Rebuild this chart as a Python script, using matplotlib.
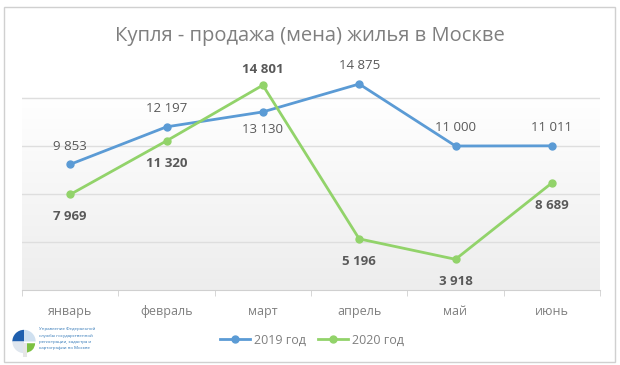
import numpy as np
import matplotlib
matplotlib.use("Agg")
import matplotlib.pyplot as plt
from matplotlib.patches import Rectangle, Wedge
from matplotlib.lines import Line2D

plt.rcParams['font.family'] = ['Open Sans', 'DejaVu Sans']

# данные
mesyacy = ['январь', 'февраль', 'март', 'апрель', 'май', 'июнь']
god_2019 = [9853, 12197, 13130, 14875, 11000, 11011]
god_2020 = [7969, 11320, 14801, 5196, 3918, 8689]
podpisi_2019 = ['9 853', '12 197', '13 130', '14 875', '11 000', '11 011']
podpisi_2020 = ['7 969', '11 320', '14 801', '5 196', '3 918', '8 689']
setka = [5000, 8000, 11000, 14000]

SINIY = '#5b9bd5'
ZELENYY = '#92d36a'
SERYY = '#595959'

W, H = 620, 365
fig = plt.figure(figsize=(W / 100, H / 100), dpi=100)
fig.patch.set_facecolor('white')

# рамка вокруг диаграммы
fig.patches.append(Rectangle((4 / W, 1 - 362 / H), 611 / W, 355 / H, transform=fig.transFigure,
                             fill=False, edgecolor='#d0d0d0', linewidth=1))

ax = fig.add_axes([22 / W, 1 - 290 / H, 578 / W, 232 / H])
x = np.arange(len(mesyacy))
ax.set_xlim(-0.5, len(mesyacy) - 0.5)
ax.set_ylim(2000, 16500)

# фон с градиентом
grad = np.linspace(0, 1, 256).reshape(-1, 1)
cmap = matplotlib.colors.LinearSegmentedColormap.from_list('g', ['#ededed', '#ffffff'])
ax.imshow(grad, extent=[-0.5, len(mesyacy) - 0.5, 2000, 14000], origin='lower',
          aspect='auto', cmap=cmap, zorder=0)

for g in setka:
    ax.axhline(g, color='#dedede', linewidth=1, zorder=1)

ax.plot(x, god_2019, color=SINIY, linewidth=2, marker='o', markersize=5, zorder=3)
ax.plot(x, god_2020, color=ZELENYY, linewidth=2, marker='o', markersize=5, zorder=3)

for i in range(len(x)):
    sverhu_2019 = i != 2
    ax.annotate(podpisi_2019[i], (x[i], god_2019[i]),
                xytext=(0, 13 if sverhu_2019 else -13), textcoords='offset points',
                ha='center', va='center', fontsize=9.5, color=SERYY, zorder=4)
    sverhu_2020 = i == 2
    ax.annotate(podpisi_2020[i], (x[i], god_2020[i]),
                xytext=(0, 11 if sverhu_2020 else -16), textcoords='offset points',
                ha='center', va='center', fontsize=9.5, color=SERYY, fontweight='bold', zorder=4)

for s in ['top', 'right', 'left']:
    ax.spines[s].set_visible(False)
ax.spines['bottom'].set_color('#d0d0d0')
ax.set_yticks([])
ax.set_xticks(x)
ax.set_xticklabels(mesyacy, fontsize=9, color='#7f7f7f')
ax.tick_params(axis='x', which='major', length=0, pad=11)
ax.set_xticks(np.arange(-0.5, len(mesyacy)), minor=True)
ax.tick_params(axis='x', which='minor', length=4, color='#d0d0d0')

fig.text(310 / W, 1 - 36 / H, 'Купля - продажа (мена) жилья в Москве',
         ha='center', va='center', fontsize=14.5, color='#7f7f7f')

# легенда
ruchki = [Line2D([], [], color=SINIY, linewidth=2, marker='o', markersize=5),
          Line2D([], [], color=ZELENYY, linewidth=2, marker='o', markersize=5)]
fig.legend(ruchki, ['2019 год', '2020 год'], loc='center', bbox_to_anchor=(312 / W, 1 - 340 / H),
           ncol=2, frameon=False, fontsize=9, handlelength=2.4, columnspacing=1.0,
           handletextpad=0.3, labelcolor='#7f7f7f')

# логотип
lax = fig.add_axes([10 / W, 1 - 358 / H, 28 / W, 33 / H])
lax.set_xlim(-1.2, 1.2)
lax.set_ylim(-1.4, 1.4)
lax.set_aspect('equal')
lax.axis('off')
lax.add_patch(Wedge((0, 0), 1.0, 90, 180, facecolor='#1f5fae'))
lax.add_patch(Wedge((0, 0), 1.0, 180, 270, facecolor='#dfe6ee'))
lax.add_patch(Wedge((0, 0), 1.0, 0, 90, facecolor='#cfe0f0'))
lax.add_patch(Wedge((0.15, -0.15), 0.8, 270, 360, facecolor='#7cc142'))
lax.add_patch(Rectangle((-0.1, -1.35), 0.35, 1.2, facecolor='#e6e6e6'))

stroki = ['Управление Федеральной', 'службы государственной', 'регистрации, кадастра и',
          'картографии по Москве']
for k, s in enumerate(stroki):
    fig.text(39 / W, 1 - (329 + k * 6.5) / H, s, fontsize=3.2, color='#2e75b6',
             ha='left', va='center')

fig.savefig('out.png', dpi=100)
